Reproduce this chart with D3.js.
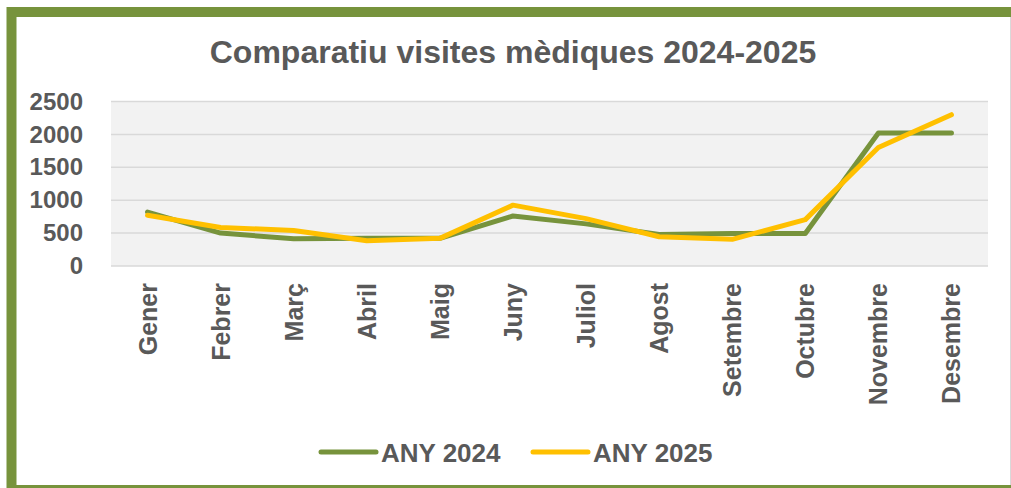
<!DOCTYPE html>
<html>
<head>
<meta charset="utf-8">
<script src="https://cdn.jsdelivr.net/npm/d3@7"></script>
<style>
  body { margin: 0; background: #fff; }
  svg { display: block; font-family: "Liberation Sans", Arial, sans-serif; }
</style>
</head>
<body>
<svg id="chart"></svg>
<script>
const months = ["Gener", "Febrer", "Març", "Abril", "Maig", "Juny", "Juliol",
  "Agost", "Setembre", "Octubre", "Novembre", "Desembre"];
const any2024 = [820, 500, 415, 420, 420, 760, 640, 480, 495, 495, 2020, 2020];
const any2025 = [770, 585, 540, 385, 420, 925, 720, 445, 405, 705, 1800, 2300];
const yTicks = [0, 500, 1000, 1500, 2000, 2500];
const seriesNames = ["ANY 2024", "ANY 2025"];
const colors = ["#77933C", "#FFC000"];

const svgWidth = 1011, svgHeight = 488;
const margin = { top: 101.5, right: 23, bottom: 222, left: 111 };
const width = svgWidth - margin.left - margin.right;
const height = svgHeight - margin.top - margin.bottom;
const textColor = "#595959";

const svg = d3.select("#chart")
  .attr("width", svgWidth)
  .attr("height", svgHeight);

// outer frame
svg.append("rect")
  .attr("x", 11.5).attr("y", 12)
  .attr("width", 1030).attr("height", 478)
  .attr("fill", "#fff")
  .attr("stroke", "#77933C")
  .attr("stroke-width", 10);
svg.append("line")
  .attr("x1", 1010.5).attr("x2", 1010.5)
  .attr("y1", 17).attr("y2", 485)
  .attr("stroke", "#d9d9d9");

svg.append("text")
  .attr("x", 513).attr("y", 63)
  .attr("text-anchor", "middle")
  .attr("font-size", 32).attr("font-weight", "bold")
  .attr("fill", textColor)
  .text("Comparatiu visites mèdiques 2024-2025");

const g = svg.append("g")
  .attr("transform", "translate(" + margin.left + "," + margin.top + ")");

const x = d3.scaleBand().domain(months).range([0, width]);
const y = d3.scaleLinear().domain([0, 2500]).range([height, 0]);

g.append("rect")
  .attr("width", width).attr("height", height)
  .attr("fill", "#f2f2f2");

// gridlines
g.selectAll(".grid")
  .data(yTicks)
  .enter().append("line")
  .attr("x1", 0).attr("x2", width)
  .attr("y1", d => y(d)).attr("y2", d => y(d))
  .attr("stroke", "#d9d9d9")
  .attr("stroke-width", 1.5);

// y axis
const yAxis = g.append("g")
  .call(d3.axisLeft(y).tickValues(yTicks).tickFormat(d3.format("d"))
    .tickSize(0).tickPadding(28));
yAxis.select(".domain").remove();
yAxis.selectAll("text")
  .attr("font-size", 24).attr("font-weight", "bold")
  .attr("font-family", "Liberation Sans, Arial, sans-serif")
  .attr("fill", textColor);

// x axis
const xAxis = g.append("g")
  .attr("transform", "translate(0," + height + ")")
  .call(d3.axisBottom(x).tickSize(0));
xAxis.select(".domain").remove();
xAxis.selectAll("text")
  .attr("font-size", 25).attr("font-weight", "bold")
  .attr("font-family", "Liberation Sans, Arial, sans-serif")
  .attr("fill", textColor)
  .attr("transform", "rotate(-90)")
  .attr("text-anchor", "end")
  .attr("x", -17).attr("y", 0).attr("dy", "0.36em");

const line = d3.line()
  .x((d, i) => x(months[i]) + x.bandwidth() / 2)
  .y(d => y(d));

[any2024, any2025].forEach((vals, k) => {
  g.append("path")
    .datum(vals)
    .attr("fill", "none")
    .attr("stroke", colors[k])
    .attr("stroke-width", 5)
    .attr("stroke-linejoin", "round")
    .attr("stroke-linecap", "round")
    .attr("d", line);
});

// legend
const legendX = [321, 533];
seriesNames.forEach((name, k) => {
  svg.append("line")
    .attr("x1", legendX[k]).attr("x2", legendX[k] + 55)
    .attr("y1", 452).attr("y2", 452)
    .attr("stroke", colors[k])
    .attr("stroke-width", 5)
    .attr("stroke-linecap", "round");
  svg.append("text")
    .attr("x", legendX[k] + 60).attr("y", 461.5)
    .attr("font-size", 26).attr("font-weight", "bold")
    .attr("fill", textColor)
    .text(name);
});
</script>
</body>
</html>
